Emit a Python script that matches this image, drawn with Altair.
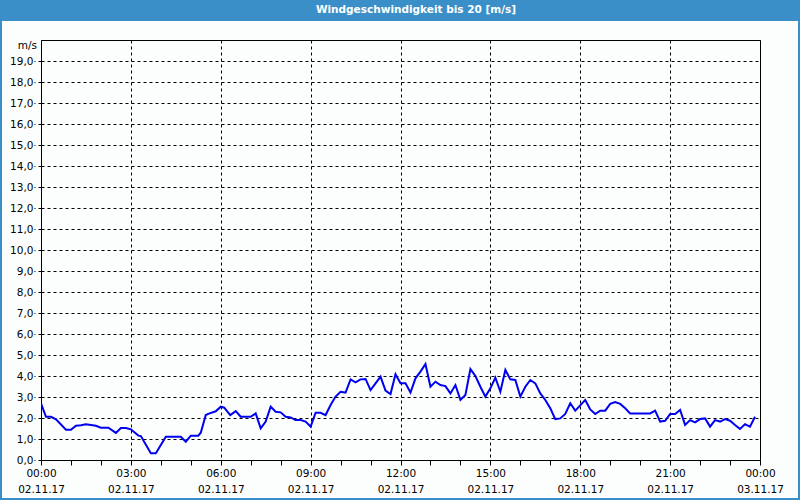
import altair as alt
import pandas as pd

# time of day (02.11.17) and wind speed in m/s
TIMES = ["00:00","00:10","00:20","00:30","00:50","01:00","01:10","01:20","01:30","01:50",
         "02:00","02:15","02:30","02:40","02:50","03:00","03:15","03:20","03:40","03:50",
         "04:10","04:40","04:50","05:00","05:15","05:20","05:30","05:35","05:50","06:00",
         "06:07","06:19","06:30","06:40","07:00","07:10","07:20","07:30","07:40","07:50",
         "08:00","08:10","08:20","08:30","08:40","08:50","09:00","09:10","09:20","09:30",
         "09:40","09:50","10:00","10:10","10:20","10:30","10:40","10:50","11:00","11:10",
         "11:20","11:30","11:40","11:50","12:00","12:10","12:20","12:30","12:40","12:50",
         "13:00","13:10","13:20","13:30","13:40","13:50","14:00","14:10","14:20","14:30",
         "14:40","14:50","15:00","15:10","15:20","15:30","15:40","15:50","16:00","16:10",
         "16:20","16:30","16:40","16:50","17:00","17:10","17:20","17:30","17:40","17:50",
         "18:00","18:10","18:20","18:30","18:40","18:50","19:00","19:10","19:20","19:30",
         "19:40","20:20","20:30","20:40","20:50","21:00","21:10","21:20","21:30","21:40",
         "21:50","22:00","22:10","22:20","22:30","22:40","22:50","23:00","23:10","23:20",
         "23:30","23:40","23:50"]
SPEEDS = [2.70,2.06,2.06,1.94,1.44,1.44,1.63,1.65,1.70,1.63,
          1.54,1.54,1.29,1.52,1.52,1.46,1.16,1.14,0.32,0.32,
          1.11,1.11,0.87,1.16,1.16,1.30,2.14,2.20,2.32,2.54,
          2.49,2.14,2.33,2.06,2.06,2.22,1.51,1.83,2.54,2.30,
          2.27,2.06,2.03,1.90,1.90,1.83,1.59,2.25,2.25,2.14,
          2.62,3.02,3.25,3.21,3.84,3.70,3.84,3.86,3.33,3.65,
          3.97,3.30,3.14,4.08,3.65,3.65,3.21,3.89,4.21,4.57,
          3.49,3.73,3.57,3.52,3.17,3.57,2.86,3.10,4.33,4.00,
          3.49,3.02,3.41,3.92,3.25,4.29,3.84,3.81,3.02,3.49,
          3.81,3.65,3.17,2.86,2.46,1.95,1.98,2.19,2.70,2.35,
          2.60,2.86,2.41,2.19,2.35,2.35,2.67,2.76,2.67,2.46,
          2.22,2.22,2.35,1.83,1.87,2.19,2.19,2.38,1.67,1.90,
          1.79,1.95,1.98,1.59,1.90,1.83,1.95,1.87,1.67,1.48,
          1.71,1.59,2.06]
Y_TICKS = list(range(0, 20))
HOURS = list(range(0, 25))
TITLE = "Windgeschwindigkeit bis 20 [m/s]"
UNIT = "m/s"

df = pd.DataFrame({"t": ["2017-11-02T" + t + ":00" for t in TIMES], "v": SPEEDS})

def hour_dt(h):
    if h == 24:
        return alt.DateTime(year=2017, month=11, date=3, hours=0)
    return alt.DateTime(year=2017, month=11, date=2, hours=h)

FONT = "DejaVu Sans"
BLUE = "#3b8fc8"

x_axis = alt.Axis(
    values=[hour_dt(h) for h in HOURS],
    title=None,
    grid=True,
    gridColor="black",
    gridDash=[3, 3],
    gridOpacity={"condition": {"test": "hours(datum.value) % 3 == 0", "value": 1}, "value": 0},
    labelExpr="hours(datum.value) % 3 == 0 ? [timeFormat(datum.value, '%H:%M'), timeFormat(datum.value, '%d.%m.%y')] : ''",
    labelOverlap=False,
    labelFlush=False,
    labelFont=FONT,
    labelFontSize=10.5,
    labelColor="black",
    labelLineHeight=16,
    labelPadding=3,
    tickColor="black",
    tickSize=5,
    domain=False,
)

y_axis = alt.Axis(
    values=Y_TICKS,
    title=None,
    grid=True,
    gridColor="black",
    gridDash=[3, 3],
    labelExpr="replace(format(datum.value, '.1f'), '.', ',')",
    labelFont=FONT,
    labelFontSize=10.5,
    labelColor="black",
    labelPadding=1,
    tickColor="black",
    tickDash=[3, 3],
    tickSize=7,
    domain=False,
)

one = pd.DataFrame({"a": [0]})

title_bar = alt.Chart(one).mark_rect(color=BLUE).encode(
    x=alt.value(-41), x2=alt.value(759), y=alt.value(-40), y2=alt.value(-19)
)
border = alt.Chart(one).mark_rect(fillOpacity=0, stroke=BLUE, strokeWidth=2).encode(
    x=alt.value(-40), x2=alt.value(758), y=alt.value(-39), y2=alt.value(459)
)
title_text = alt.Chart(one).mark_text(
    text=TITLE, color="white", font=FONT, fontSize=10.5, fontWeight="bold", align="center", baseline="middle"
).encode(x=alt.value(375), y=alt.value(-30))
unit_text = alt.Chart(one).mark_text(
    text=UNIT, color="black", font=FONT, fontSize=10.5, align="right", baseline="middle"
).encode(x=alt.value(-4), y=alt.value(6))

line = alt.Chart(df).mark_line(color="#0000f0", strokeWidth=2, clip=True).encode(
    x=alt.X("t:T", scale=alt.Scale(domain=[hour_dt(0), hour_dt(24)]), axis=x_axis),
    y=alt.Y("v:Q", scale=alt.Scale(domain=[0, 20], nice=False), axis=y_axis),
)

chart = alt.layer(title_bar, border, line, title_text, unit_text).properties(
    width=719,
    height=420,
    autosize=alt.AutoSizeParams(type="none"),
    padding={"left": 41, "top": 40, "right": 40, "bottom": 40},
    background="#fcfefd",
).configure_view(stroke="black", strokeWidth=1)

chart.save("out.html", embed_options={"renderer": "svg", "actions": False})
